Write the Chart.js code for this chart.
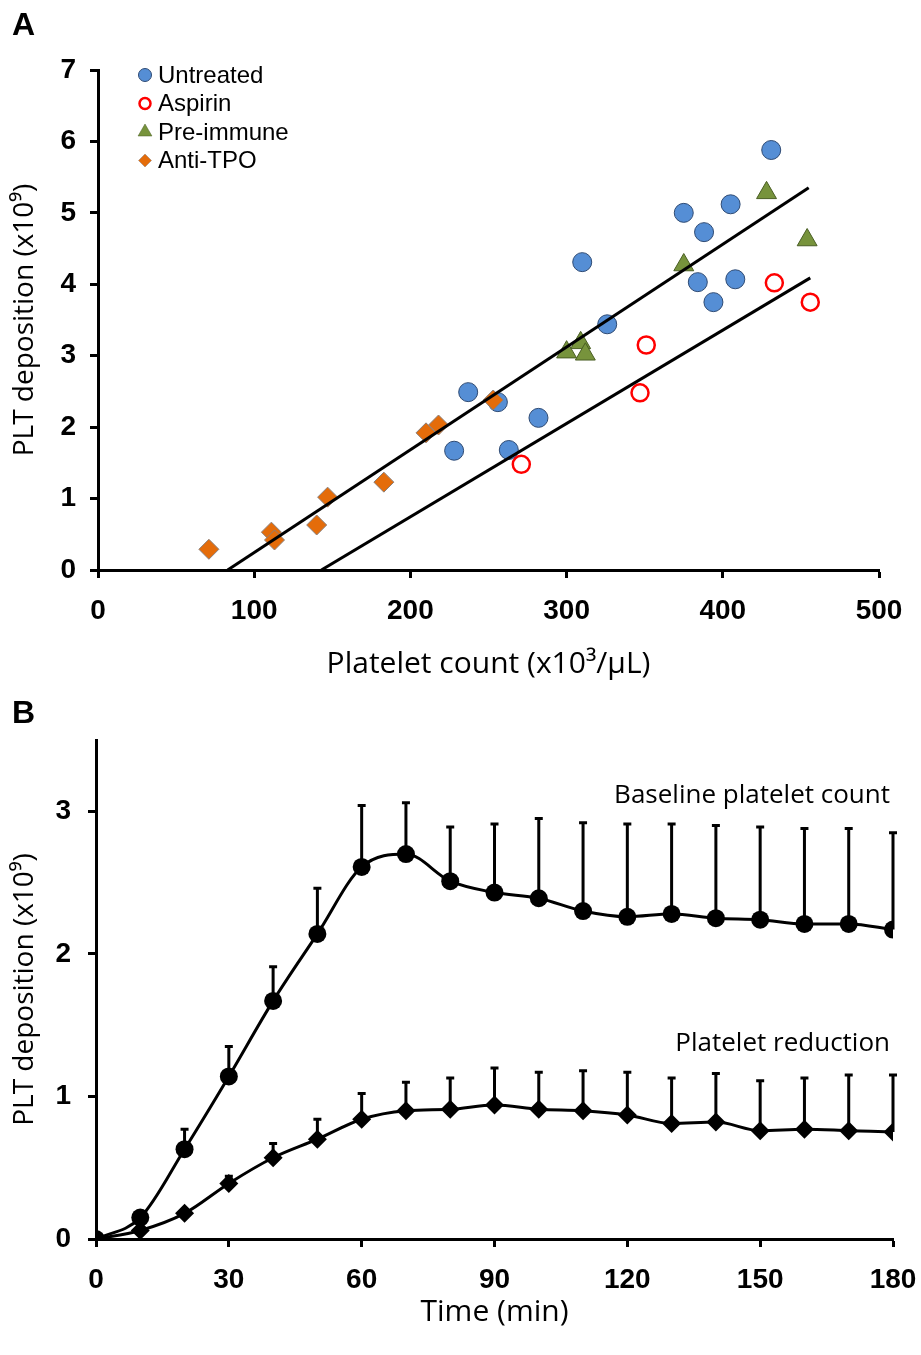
<!DOCTYPE html>
<html>
<head>
<meta charset="utf-8">
<script src="https://cdn.jsdelivr.net/npm/chart.js@4.4.1/dist/chart.umd.min.js"></script>
<style>
  body { margin: 0; background: #fff; width: 921px; height: 1355px; position: relative; overflow: hidden; }
  .panel { position: absolute; left: 0; width: 921px; }
  .tag { position: absolute; left: 12px; font: bold 32px "Liberation Sans", Arial, sans-serif; line-height: 1; color: #000; }
</style>
</head>
<body>
<div class="panel" style="top:0;height:700px"><canvas id="chartA" width="921" height="700"></canvas></div>
<div class="panel" style="top:700px;height:655px"><canvas id="chartB" width="921" height="655"></canvas></div>
<div class="tag" style="top:8px">A</div>
<div class="tag" style="top:696px">B</div>
<script>
// ---- Panel A: platelet count vs deposition ----
const countTicks = [0, 100, 200, 300, 400, 500];
const depTicksA = [0, 1, 2, 3, 4, 5, 6, 7];

const untreatedX = [431, 375, 405, 388, 384, 394, 408, 310, 326, 237, 256, 282, 228, 263];
const untreatedY = [5.88, 5.00, 5.12, 4.73, 4.03, 3.75, 4.07, 4.31, 3.44, 2.49, 2.35, 2.13, 1.67, 1.68];

const aspirinX = [271, 347, 351, 433, 456];
const aspirinY = [1.48, 2.48, 3.15, 4.02, 3.75];

const preImmuneX = [428, 454, 375, 300, 309, 312];
const preImmuneY = [5.28, 4.62, 4.27, 3.05, 3.18, 3.02];

const antiTpoX = [71, 111, 113, 140, 147, 183, 210, 218, 253];
const antiTpoY = [0.29, 0.53, 0.42, 0.63, 1.02, 1.23, 1.92, 2.03, 2.38];

// regression line end points
const fitUpperX = [83, 455];
const fitUpperY = [0, 5.35];
const fitLowerX = [143, 456];
const fitLowerY = [0, 4.09];

// ---- Panel B: deposition over time ----
const timeTicks = [0, 30, 60, 90, 120, 150, 180];
const depTicksB = [0, 1, 2, 3];
const timePoints = [0, 10, 20, 30, 40, 50, 60, 70, 80, 90, 100, 110, 120, 130, 140, 150, 160, 170, 180];
const baselineMean = [0, 0.15, 0.63, 1.14, 1.67, 2.14, 2.61, 2.70, 2.51, 2.43, 2.39, 2.30, 2.26, 2.28, 2.25, 2.24, 2.21, 2.21, 2.17];
const baselineSD = [0, 0, 0.14, 0.21, 0.24, 0.32, 0.43, 0.36, 0.38, 0.48, 0.56, 0.62, 0.65, 0.63, 0.65, 0.65, 0.67, 0.67, 0.68];
const reductionMean = [0, 0.06, 0.18, 0.39, 0.57, 0.70, 0.84, 0.90, 0.91, 0.94, 0.91, 0.90, 0.87, 0.81, 0.82, 0.76, 0.77, 0.76, 0.75];
const reductionSD = [0, 0, 0, 0.05, 0.10, 0.14, 0.18, 0.20, 0.22, 0.26, 0.26, 0.28, 0.30, 0.32, 0.34, 0.35, 0.36, 0.39, 0.40];

const tickFont = '"Liberation Sans Narrow", "Arial Narrow", "Liberation Sans", sans-serif';
const titleFont = '"Open Sans", "Noto Sans", sans-serif';

function pts(xs, ys) {
    return xs.map((x, i) => ({ x: x, y: ys[i] }));
}

function axis(min, max, tickList, opts) {
    return {
        type: 'linear',
        min: min,
        max: max,
        afterBuildTicks: s => { s.ticks = tickList.map(v => ({ value: v })); },
        afterFit: opts.fit,
        border: { display: true, color: '#000', width: 3 },
        grid: { drawOnChartArea: false, drawTicks: true, tickLength: 8, tickWidth: 3, tickColor: '#000' },
        ticks: { color: '#000', padding: opts.pad, font: { family: tickFont, size: 28, weight: 'bold' } },
        title: { display: true, text: opts.title, color: '#000', padding: 0, font: { family: titleFont, size: opts.titleSize } }
    };
}

// legend drawn inside the plot, top left
const insideLegend = {
    id: 'insideLegend',
    afterDatasetsDraw(chart) {
        const ctx = chart.ctx;
        const area = chart.chartArea;
        let y = area.top + 5;
        ctx.save();
        chart.data.datasets.forEach(ds => {
            if (ds.inLegend === false) return;
            ctx.fillStyle = ds.backgroundColor;
            ctx.strokeStyle = ds.borderColor;
            ctx.lineWidth = ds.legendBorder;
            Chart.helpers.drawPoint(ctx, { pointStyle: ds.pointStyle, radius: ds.legendRadius, rotation: 0, borderWidth: ds.legendBorder }, area.left + 47, y);
            ctx.fillStyle = '#000';
            ctx.font = '24px "Liberation Sans", Arial, sans-serif';
            ctx.textAlign = 'left';
            ctx.textBaseline = 'middle';
            ctx.fillText(ds.label, area.left + 60, y + 1);
            y += 28.5;
        });
        ctx.restore();
    }
};

new Chart(document.getElementById('chartA'), {
    type: 'scatter',
    data: {
        datasets: [
            { label: 'Untreated', data: pts(untreatedX, untreatedY), pointStyle: 'circle', pointRadius: 9.5, order: 4,
              backgroundColor: '#558ED5', borderColor: '#2E4A73', borderWidth: 1, legendRadius: 6.5, legendBorder: 1 },
            { label: 'Aspirin', data: pts(aspirinX, aspirinY), pointStyle: 'circle', pointRadius: 8.5, order: 3,
              backgroundColor: '#FFFFFF', borderColor: '#FF0000', borderWidth: 2.5, legendRadius: 5.5, legendBorder: 2.5 },
            { label: 'Pre-immune', data: pts(preImmuneX, preImmuneY), pointStyle: 'triangle', pointRadius: 11.5, order: 2,
              backgroundColor: '#77933C', borderColor: '#4A5E24', borderWidth: 1, legendRadius: 8, legendBorder: 0.5 },
            { label: 'Anti-TPO', data: pts(antiTpoX, antiTpoY), pointStyle: 'rectRot', pointRadius: 10, order: 1,
              backgroundColor: '#E46C0A', borderColor: '#8A7F7A', borderWidth: 1, legendRadius: 6.5, legendBorder: 0.5 },
            { label: 'fit upper', type: 'line', data: pts(fitUpperX, fitUpperY), inLegend: false, order: 0,
              borderColor: '#000', borderWidth: 3, pointRadius: 0, backgroundColor: '#000' },
            { label: 'fit lower', type: 'line', data: pts(fitLowerX, fitLowerY), inLegend: false, order: 0,
              borderColor: '#000', borderWidth: 3, pointRadius: 0, backgroundColor: '#000' }
        ]
    },
    options: {
        responsive: false,
        animation: false,
        layout: { padding: { left: 8, right: 42, top: 70, bottom: 18 } },
        plugins: { legend: { display: false }, tooltip: { enabled: false } },
        scales: {
            x: axis(0, 500, countTicks, { fit: s => { s.height = 112; s.paddingLeft = 0; s.paddingRight = 0; }, pad: 16, titleSize: 30, title: 'Platelet count (x10³/µL)' }),
            y: axis(0, 7, depTicksA, { fit: s => { s.width = 90; }, pad: 14, titleSize: 28, title: 'PLT deposition (x10⁹)' })
        }
    },
    plugins: [insideLegend]
});

// upward error bars with caps, drawn under the markers
const errorBars = {
    id: 'errorBars',
    beforeDatasetsDraw(chart) {
        const ctx = chart.ctx;
        const xs = chart.scales.x, ys = chart.scales.y;
        ctx.save();
        ctx.strokeStyle = '#000';
        ctx.lineWidth = 3;
        chart.data.datasets.forEach(ds => {
            ds.sd.forEach((sd, i) => {
                if (!sd) return;
                const px = xs.getPixelForValue(timePoints[i]);
                const y0 = ys.getPixelForValue(ds.data[i]);
                const y1 = ys.getPixelForValue(ds.data[i] + sd);
                ctx.beginPath();
                ctx.moveTo(px, y0);
                ctx.lineTo(px, y1);
                ctx.moveTo(px - 4, y1);
                ctx.lineTo(px + 4, y1);
                ctx.stroke();
            });
        });
        ctx.restore();
    }
};

const seriesNotes = {
    id: 'seriesNotes',
    afterDatasetsDraw(chart) {
        const ctx = chart.ctx;
        const xs = chart.scales.x, ys = chart.scales.y;
        ctx.save();
        ctx.fillStyle = '#000';
        ctx.font = '26px ' + titleFont;
        ctx.textAlign = 'right';
        ctx.textBaseline = 'alphabetic';
        chart.data.datasets.forEach(ds => {
            ctx.fillText(ds.label, xs.getPixelForValue(180) - 3, ys.getPixelForValue(ds.noteY));
        });
        ctx.restore();
    }
};

new Chart(document.getElementById('chartB'), {
    type: 'line',
    data: {
        labels: timePoints,
        datasets: [
            { label: 'Baseline platelet count', data: baselineMean, sd: baselineSD, noteY: 3.06,
              borderColor: '#000', backgroundColor: '#000', borderWidth: 3, cubicInterpolationMode: 'monotone',
              pointStyle: 'circle', pointRadius: 9, pointBorderWidth: 0 },
            { label: 'Platelet reduction', data: reductionMean, sd: reductionSD, noteY: 1.32,
              borderColor: '#000', backgroundColor: '#000', borderWidth: 3, cubicInterpolationMode: 'monotone',
              pointStyle: 'rectRot', pointRadius: 9.5, pointBorderWidth: 0 }
        ]
    },
    options: {
        responsive: false,
        animation: false,
        layout: { padding: { left: 8, right: 28, top: 40, bottom: 25 } },
        plugins: { legend: { display: false }, tooltip: { enabled: false } },
        scales: {
            x: axis(0, 180, timeTicks, { fit: s => { s.height = 91; s.paddingLeft = 0; s.paddingRight = 0; }, pad: 16, titleSize: 30, title: 'Time (min)' }),
            y: axis(0, 3.5, depTicksB, { fit: s => { s.width = 88; }, pad: 17, titleSize: 28, title: 'PLT deposition (x10⁹)' })
        }
    },
    plugins: [errorBars, seriesNotes]
});
</script>
</body>
</html>
